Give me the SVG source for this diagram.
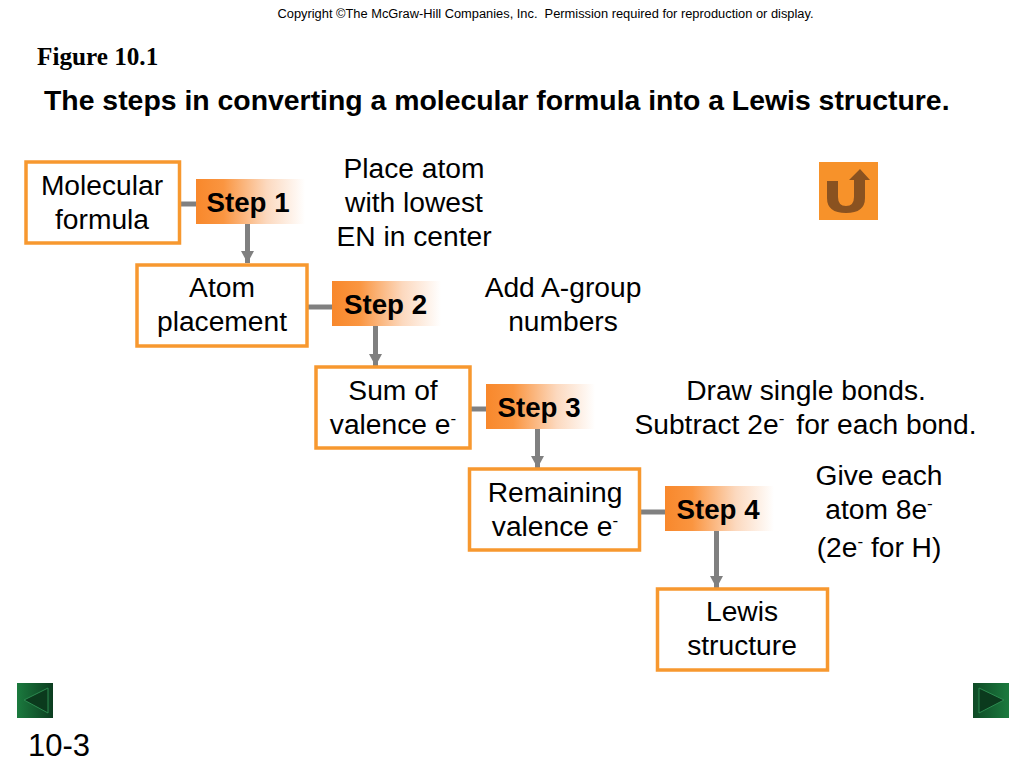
<svg xmlns="http://www.w3.org/2000/svg" width="1024" height="768" viewBox="0 0 1024 768">
<defs>
<linearGradient id="stepFill" x1="0" y1="0" x2="1" y2="0"><stop offset="0" stop-color="#f8882c"/><stop offset="0.25" stop-color="#fa9540"/><stop offset="0.65" stop-color="#fcd9bf"/><stop offset="1" stop-color="#ffffff"/></linearGradient>
<linearGradient id="navL" x1="0" y1="0" x2="1" y2="0"><stop offset="0" stop-color="#1b7a3e"/><stop offset="1" stop-color="#0c3d20"/></linearGradient>
<linearGradient id="navR" x1="0" y1="0" x2="1" y2="0"><stop offset="0" stop-color="#0f4a26"/><stop offset="1" stop-color="#1b7a3e"/></linearGradient>
<marker id="arrow" markerUnits="userSpaceOnUse" markerWidth="14" markerHeight="13" refX="12" refY="6.5" orient="auto"><path d="M0 0L12 6.5L0 13Z" fill="#808080"/></marker>
</defs>
<style>
text{font-family:"Liberation Sans",Arial,sans-serif;fill:#000}
.t{font-size:28.2px;text-anchor:middle}
.s{font-size:27.7px;font-weight:bold;text-anchor:middle}
.b{fill:#fff;stroke:#f7982f;stroke-width:3.5}
.st{fill:url(#stepFill)}
.c{fill:none;stroke:#808080;stroke-width:5}
.sup{font-size:17px}
</style>
<text x="545.500" y="17.500" font-size="12.85" text-anchor="middle" xml:space="preserve">Copyright ©The McGraw-Hill Companies, Inc.  Permission required for reproduction or display.</text>
<text x="37" y="65" font-size="25.200" font-weight="bold" style="font-family:'Liberation Serif',serif">Figure 10.1</text>
<text x="44" y="110" font-size="28.400" font-weight="bold">The steps in converting a molecular formula into a Lewis structure.</text>

<g id="connectors">
<path class="c" d="M180 204H197"/>
<path class="c" d="M247.500 224V263" marker-end="url(#arrow)"/>
<path class="c" d="M308 307H333"/>
<path class="c" d="M375.500 326V366" marker-end="url(#arrow)"/>
<path class="c" d="M471 409H487"/>
<path class="c" d="M537.500 429V468" marker-end="url(#arrow)"/>
<path class="c" d="M641 512H666"/>
<path class="c" d="M716.500 531V588" marker-end="url(#arrow)"/>
</g>

<g id="node-molecular-formula"><rect class="b" x="26" y="162" width="153.500" height="81"/><text class="t" x="102" y="195">Molecular</text><text class="t" x="102" y="229">formula</text></g>
<g id="node-atom-placement"><rect class="b" x="137" y="265" width="170" height="81"/><text class="t" x="222" y="297">Atom</text><text class="t" x="222" y="331">placement</text></g>
<g id="node-sum-valence"><rect class="b" x="316" y="367" width="154" height="81"/><text class="t" x="393" y="400">Sum of</text><text class="t" x="393" y="434">valence e<tspan class="sup" dy="-10">-</tspan></text></g>
<g id="node-remaining-valence"><rect class="b" x="469.500" y="469" width="170" height="81"/><text class="t" x="555" y="502">Remaining</text><text class="t" x="555" y="536">valence e<tspan class="sup" dy="-10">-</tspan></text></g>
<g id="node-lewis-structure"><rect class="b" x="657.500" y="589" width="170" height="81"/><text class="t" x="742" y="621">Lewis</text><text class="t" x="742" y="655">structure</text></g>

<g id="step-1"><rect class="st" x="196" y="179" width="109" height="45"/><text class="s" x="248" y="212">Step 1</text></g>
<g id="step-2"><rect class="st" x="332" y="281" width="109" height="45"/><text class="s" x="385.500" y="314">Step 2</text></g>
<g id="step-3"><rect class="st" x="486" y="384" width="109" height="45"/><text class="s" x="539" y="417">Step 3</text></g>
<g id="step-4"><rect class="st" x="665" y="486" width="109" height="45"/><text class="s" x="718" y="519">Step 4</text></g>

<g id="note-1"><text class="t" x="414" y="178">Place atom</text><text class="t" x="414" y="212">with lowest</text><text class="t" x="414" y="246">EN in center</text></g>
<g id="note-2"><text class="t" x="563" y="297">Add A-group</text><text class="t" x="563" y="331">numbers</text></g>
<g id="note-3"><text class="t" x="806" y="400">Draw single bonds.</text><text class="t" x="805.500" y="434">Subtract 2e<tspan class="sup" dy="-10">-</tspan><tspan dy="10" dx="12">for each bond.</tspan></text></g>
<g id="note-4"><text class="t" x="879" y="485">Give each</text><text class="t" x="879" y="519">atom 8e<tspan class="sup" dy="-10">-</tspan></text><text class="t" x="879" y="557">(2e<tspan class="sup" dy="-10">-</tspan><tspan dy="10"> for H)</tspan></text></g>

<g id="back-button"><rect x="819" y="162" width="59" height="58" fill="#f7922a"/><path d="M827 181H838V197Q838 206 846 206Q854 206 854 197V180H849L860 169L870 180H865V198Q865 213 846 213Q827 213 827 198Z" fill="#8a5220"/></g>
<g id="nav-prev"><rect x="17" y="683" width="36" height="35" fill="url(#navL)"/><path d="M24 700L48 688V713Z" fill="#0b3a1d" stroke="#2c8a50"/></g>
<g id="nav-next"><rect x="973" y="683" width="36" height="35" fill="url(#navR)"/><path d="M1004 700L979 688V713Z" fill="#0b3a1d" stroke="#2c8a50"/></g>
<text x="28" y="756" font-size="31">10-3</text>
</svg>
